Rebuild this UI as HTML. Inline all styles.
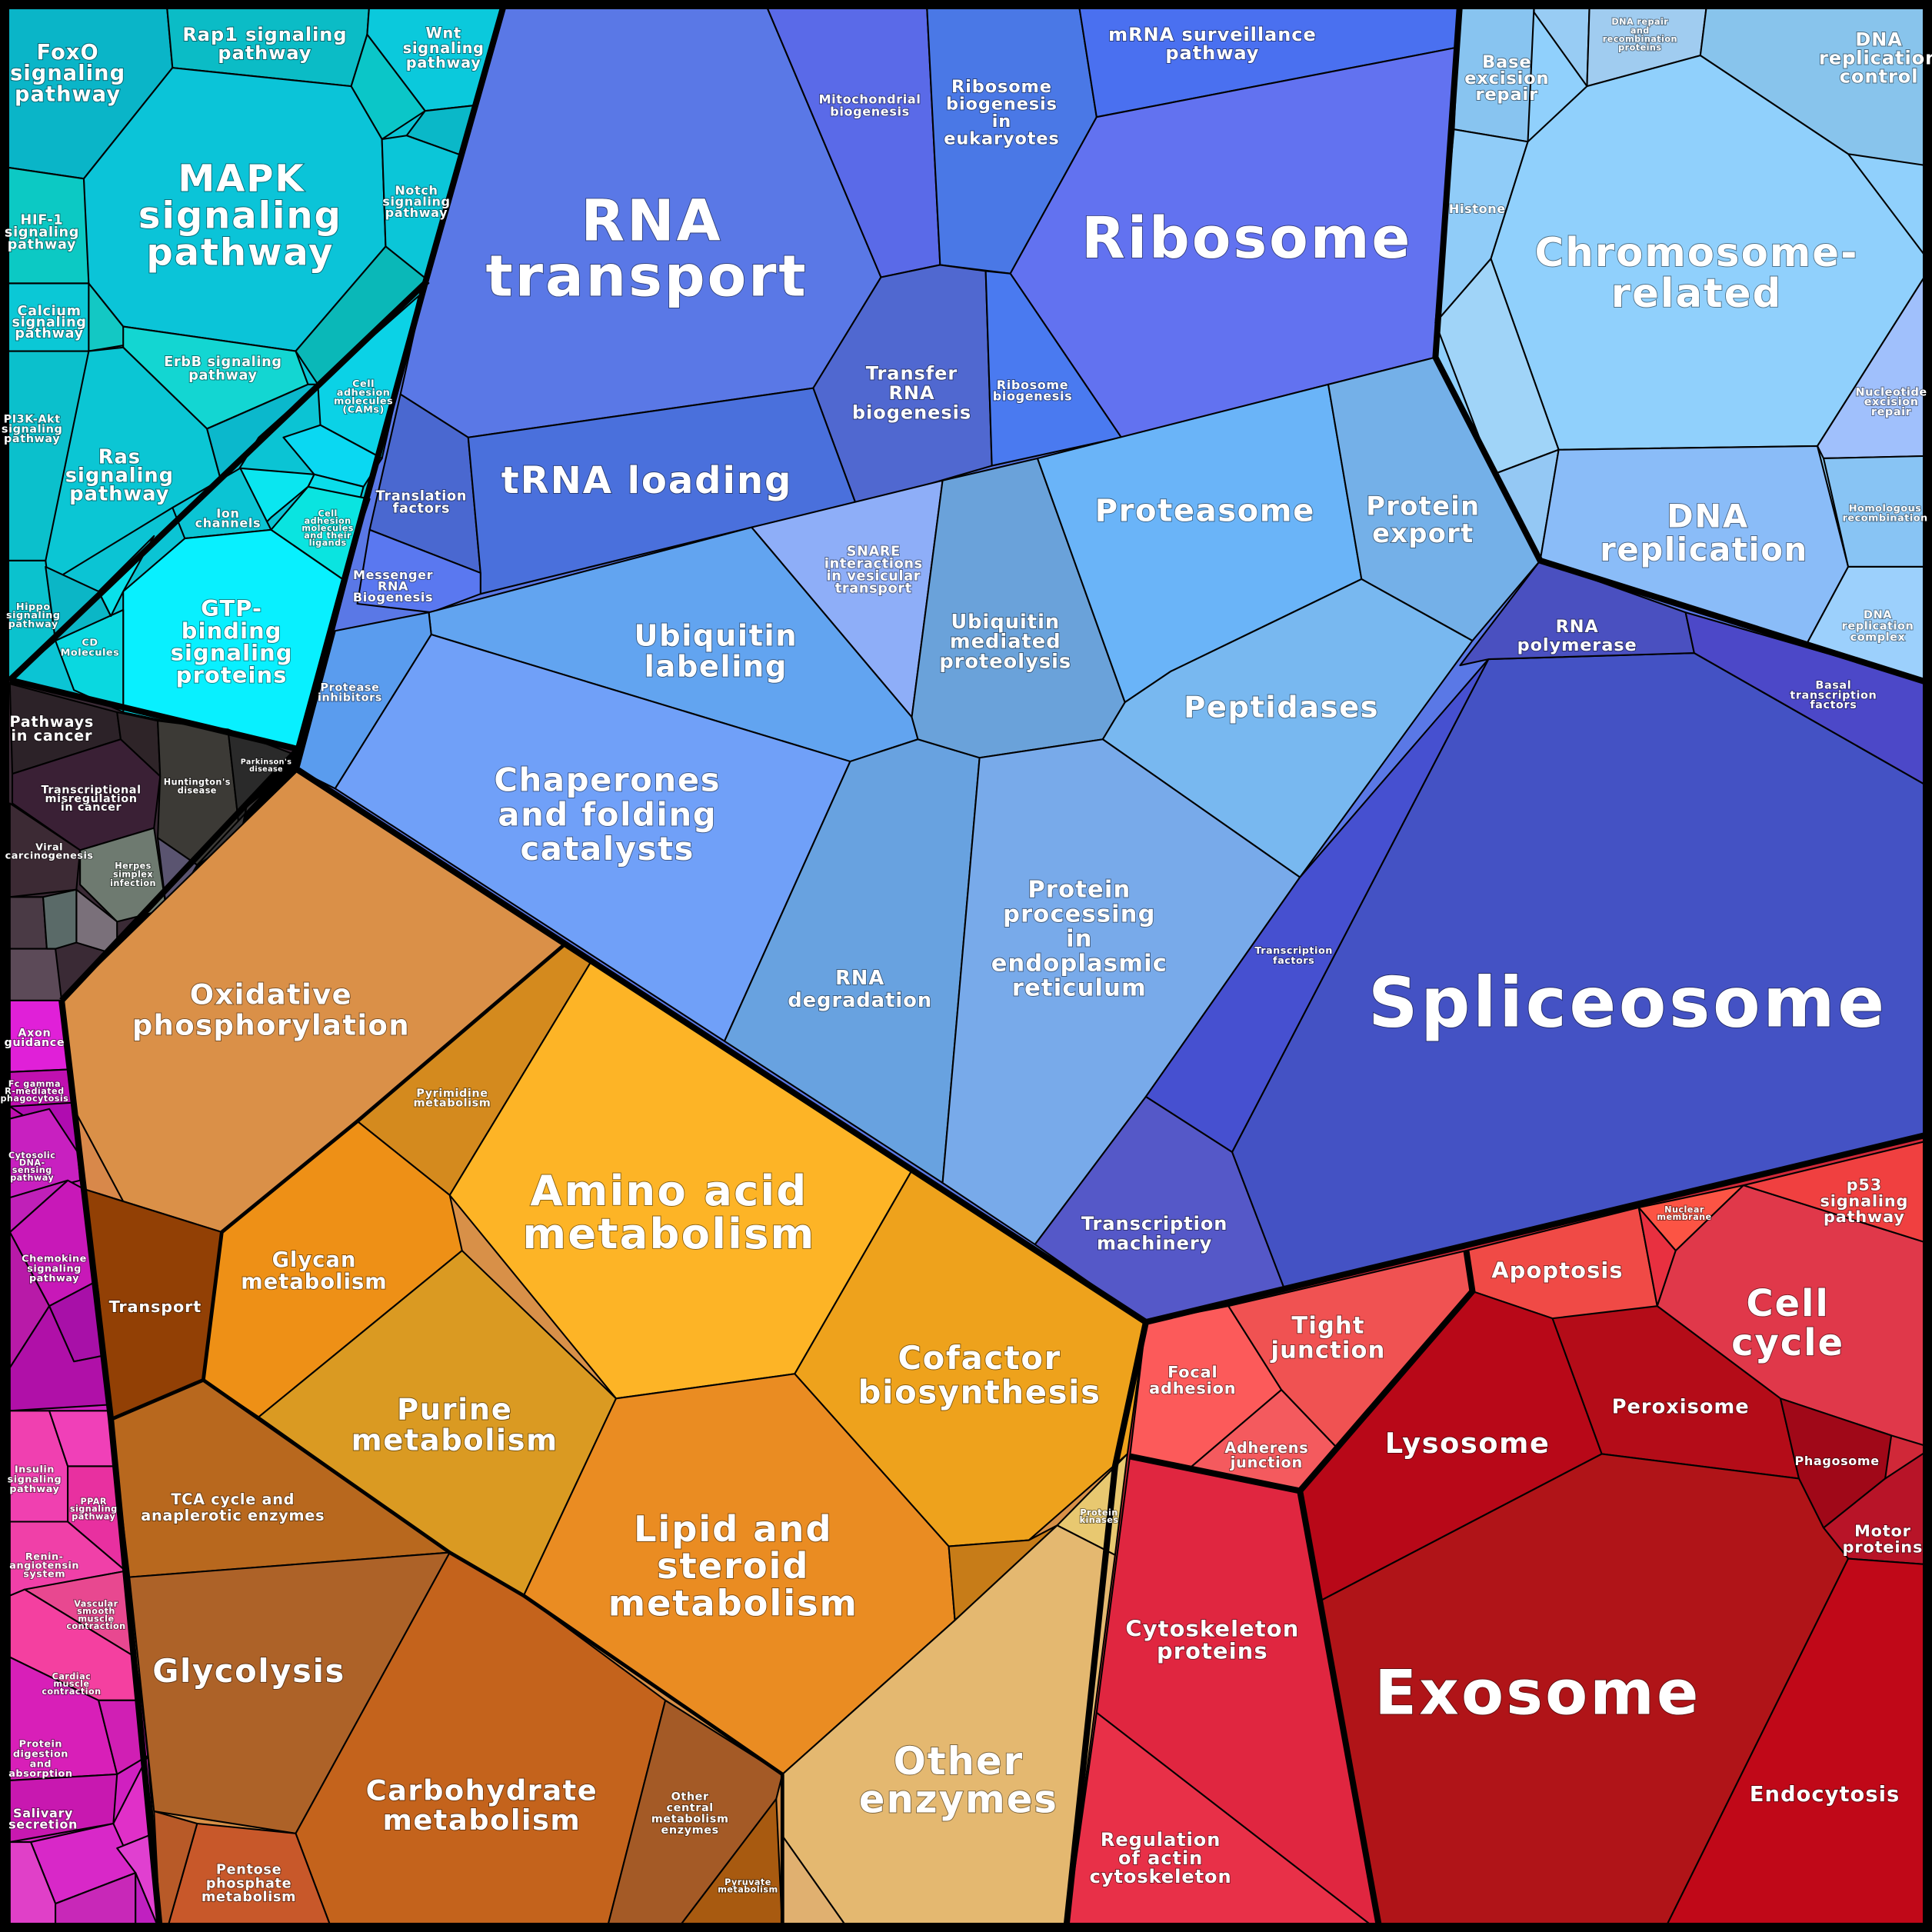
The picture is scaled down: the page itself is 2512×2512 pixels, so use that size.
<!DOCTYPE html>
<html><head><meta charset="utf-8">
<style>
html,body{margin:0;padding:0;background:#000;}
svg{display:block;}
text{font-family:"DejaVu Sans","Liberation Sans",sans-serif;font-weight:bold;fill:#fff;text-anchor:middle;paint-order:stroke;stroke:rgba(0,0,0,0.45);stroke-width:1.2px;letter-spacing:0.04em;}
.c{stroke:#000;stroke-width:1.3;stroke-linejoin:round;}
.g{fill:none;stroke:#000;stroke-width:5;stroke-linejoin:round;}
</style></head><body>
<svg width="2512" height="2512" viewBox="0 0 1568 1568" xmlns="http://www.w3.org/2000/svg">
<rect x="0" y="0" width="1568" height="1568" fill="#000"/>
<polygon fill="#0bc4d4" points="0,0 410,0 345,230 242,608 8,552 0,552"/>
<polygon fill="#3a2a35" points="0,552 8,552 242,608 50,812 0,812"/>
<polygon fill="#d020c0" points="0,812 50,812 68,965 90,1150 130,1568 0,1568"/>
<polygon fill="#d89048" points="242,625 930,1073 905,1190 865,1568 130,1568 90,1150 50,812"/>
<polygon fill="#5a78e6" points="410,0 1185,0 1165,290 1250,455 1568,555 1568,920 930,1073 242,625 345,230"/>
<polygon fill="#90d0fc" points="1185,0 1568,0 1568,555 1250,455 1165,290"/>
<polygon fill="#d02838" points="930,1073 1568,920 1568,1568 865,1568 905,1190"/>

<g class="c">
<polygon fill="#0ab5c8" points="0,0 135,0 140,55 68,145 0,135"/>
<polygon fill="#0bbcc6" points="135,0 300,0 298,28 285,70 140,55"/>
<polygon fill="#0bc9dc" points="300,0 410,0 390,85 345,90 298,28"/>
<polygon fill="#0bc6c8" points="298,28 345,90 310,113 285,70"/>
<polygon fill="#0ab8c8" points="345,90 390,85 380,128 330,110"/>
<polygon fill="#0bc4d8" points="140,55 285,70 310,113 313,200 240,285 100,265 70,230 68,145"/>
<polygon fill="#0bc6d8" points="310,113 330,110 380,128 348,228 313,200"/>
<polygon fill="#0cc9c4" points="0,135 68,145 72,230 0,230"/>
<polygon fill="#0bc8d6" points="0,230 72,230 100,265 72,285 0,285"/>
<polygon fill="#13c8c4" points="72,230 100,265 102,280 72,285"/>
<polygon fill="#0ab8b8" points="240,285 313,200 348,228 258,312"/>
<polygon fill="#13d6d2" points="100,265 240,285 250,312 168,348 100,282"/>
<polygon fill="#0bc6d4" points="0,285 72,285 100,282 168,348 182,400 140,412 45,470 20,455 0,455"/>
<polygon fill="#0bc0cc" points="0,285 72,285 37,455 0,455"/>
<polygon fill="#0bb8cc" points="168,348 250,312 258,312 210,355 182,400"/>
<polygon fill="#0bd2e6" points="258,312 340,240 310,372 260,345"/>
<polygon fill="#0ad8f2" points="230,355 260,345 310,372 295,395 255,385"/>
<polygon fill="#0adcea" points="255,385 295,395 280,450 250,395"/>
<polygon fill="#0ae6f0" points="195,380 255,385 250,395 220,420 210,430"/>
<polygon fill="#0bc4d4" points="140,412 195,380 220,430 150,437"/>
<polygon fill="#0ae4e0" points="220,430 250,395 300,405 278,470"/>
<polygon fill="#08f0ff" points="100,480 150,437 220,430 278,470 242,608 100,578"/>
<polygon fill="#0bc2ce" points="0,455 37,455 45,520 8,552 0,552"/>
<polygon fill="#0bb6c6" points="37,460 80,480 90,500 45,520"/>
<polygon fill="#0ad8e0" points="45,520 100,495 100,578 60,560"/>
<polygon fill="#0ae0ea" points="80,480 125,435 100,480 90,500"/>
</g>
<g class="c">
<polygon fill="#2c2228" points="8,555 95,578 98,600 10,628"/>
<polygon fill="#3a2035" points="10,628 98,600 130,630 125,672 65,690 10,652"/>
<polygon fill="#3c2a34" points="8,652 65,690 62,722 8,728"/>
<polygon fill="#2e2428" points="95,578 128,585 130,630 98,600"/>
<polygon fill="#3c3a36" points="128,585 185,592 195,680 160,702 128,680 130,630"/>
<polygon fill="#2a2a2a" points="185,592 238,612 200,655 195,680"/>
<polygon fill="#3a3838" points="195,680 200,655 218,640 160,702"/>
<polygon fill="#6e7a70" points="65,690 125,672 135,738 95,748 65,718"/>
<polygon fill="#5a5470" points="128,680 160,702 145,728 135,738"/>
<polygon fill="#4a3a45" points="8,728 35,728 38,770 8,770"/>
<polygon fill="#5c4a58" points="8,770 45,770 50,812 8,812"/>
<polygon fill="#7a707a" points="62,722 95,748 95,775 62,765"/>
<polygon fill="#5a6a68" points="35,728 62,722 62,765 45,770 38,770"/>
</g>
<g class="c">
<polygon fill="#e020d8" points="8,812 50,812 55,868 8,870"/>
<polygon fill="#c010b0" points="8,870 55,868 58,895 8,908"/>
<polygon fill="#b00cb0" points="8,898 58,895 63,935"/>
<polygon fill="#c820c0" points="8,908 40,900 63,935 65,958 8,972"/>
<polygon fill="#c818b8" points="8,1000 55,958 68,965 78,1040 40,1060"/>
<polygon fill="#c020b8" points="8,972 55,958 8,1000"/>
<polygon fill="#b81aa8" points="8,1000 40,1060 8,1110"/>
<polygon fill="#a810a8" points="40,1060 78,1040 85,1100 60,1105"/>
<polygon fill="#b010a8" points="8,1110 40,1060 60,1105 85,1100 90,1140 8,1145"/>
<polygon fill="#f040b0" points="8,1145 40,1145 55,1190 55,1235 8,1235"/>
<polygon fill="#f040b8" points="40,1145 90,1145 95,1190 55,1190"/>
<polygon fill="#e830a0" points="55,1190 95,1190 102,1275 55,1235"/>
<polygon fill="#f040a8" points="8,1235 55,1235 102,1275 65,1282 8,1295"/>
<polygon fill="#e84890" points="20,1290 102,1275 110,1345"/>
<polygon fill="#f440a0" points="8,1295 20,1290 110,1345 115,1380 80,1380 8,1345"/>
<polygon fill="#d81fb8" points="8,1345 80,1380 95,1440 8,1445"/>
<polygon fill="#d01fb4" points="80,1380 115,1380 120,1425 95,1440"/>
<polygon fill="#c818b0" points="8,1445 95,1440 92,1480 8,1495"/>
<polygon fill="#e030c8" points="92,1480 120,1425 125,1488 95,1500"/>
<polygon fill="#d828c8" points="25,1495 92,1480 110,1520 45,1545"/>
<polygon fill="#e040d0" points="95,1500 125,1488 130,1568 110,1520"/>
<polygon fill="#e040c8" points="8,1495 25,1495 45,1545 45,1568 8,1568"/>
<polygon fill="#c828b8" points="45,1545 110,1520 110,1568 45,1568"/>
<polygon fill="#c020c0" points="110,1520 130,1568 110,1568"/>
</g>
<g class="c">
<polygon fill="#da9048" points="50,812 242,625 460,765 290,910 180,1000 100,975 68,965 60,900"/>
<polygon fill="#d8884a" points="60,900 100,975 68,965"/>
<polygon fill="#d48a1e" points="460,765 480,780 365,970 290,910"/>
<polygon fill="#fdb426" points="480,780 740,950 645,1115 500,1135 365,970"/>
<polygon fill="#ee9016" points="180,1000 290,910 365,970 375,1015 210,1150 165,1120"/>
<polygon fill="#924005" points="68,965 180,1000 165,1120 90,1152 80,1050"/>
<polygon fill="#da9a22" points="210,1150 375,1015 500,1135 425,1295 365,1260"/>
<polygon fill="#eea21c" points="740,950 930,1073 915,1180 835,1250 770,1255 645,1115"/>
<polygon fill="#ea8c22" points="500,1135 645,1115 770,1255 775,1315 635,1440 425,1295"/>
<polygon fill="#c77c18" points="770,1255 835,1250 858,1238 775,1315"/>
<polygon fill="#b8681e" points="90,1152 165,1120 365,1260 105,1280"/>
<polygon fill="#ad6228" points="105,1280 365,1260 240,1488 125,1470"/>
<polygon fill="#c4631c" points="365,1260 425,1295 540,1380 492,1568 270,1568 240,1488"/>
<polygon fill="#a45a26" points="540,1380 635,1440 630,1460 548,1568 492,1568"/>
<polygon fill="#a85a10" points="630,1460 635,1568 548,1568"/>
<polygon fill="#c8582a" points="160,1480 240,1488 270,1568 135,1568"/>
<polygon fill="#b85a28" points="125,1470 160,1480 135,1568 130,1568"/>
<polygon fill="#e8c870" points="858,1238 915,1180 905,1262"/>
<polygon fill="#e4b870" points="635,1440 775,1315 858,1238 905,1262 865,1568 690,1568 635,1490"/>
<polygon fill="#e0b070" points="635,1490 690,1568 635,1568"/>
</g>
<g class="c">
<polygon fill="#5a78e6" points="410,0 620,0 715,225 660,315 380,355 325,320 345,230"/>
<polygon fill="#5a6ae8" points="620,0 752,0 763,215 715,225"/>
<polygon fill="#4a78e6" points="752,0 875,0 890,95 820,222 763,215"/>
<polygon fill="#4a70f0" points="875,0 1185,0 1185,38 890,95"/>
<polygon fill="#6272f0" points="890,95 1185,38 1165,290 1078,312 910,355 820,222"/>
<polygon fill="#5068d0" points="660,315 715,225 763,215 800,220 805,378 695,410"/>
<polygon fill="#4a7af0" points="800,220 820,222 910,355 805,378"/>
<polygon fill="#4a68d0" points="325,320 380,355 390,465 300,430"/>
<polygon fill="#4a70dc" points="380,355 660,315 695,410 610,428 390,482 390,465"/>
<polygon fill="#5a78f0" points="300,430 390,465 390,482 350,497 290,490"/>
<polygon fill="#8eaef8" points="610,428 765,390 740,582"/>
<polygon fill="#62a4f0" points="348,497 610,428 740,582 745,600 690,618 350,515"/>
<polygon fill="#5a9cee" points="242,625 272,512 348,497 350,515 272,640"/>
<polygon fill="#70a0f8" points="272,640 350,515 690,618 588,845"/>
<polygon fill="#68a2e0" points="588,845 690,618 745,600 795,615 765,960"/>
<polygon fill="#6aa2da" points="740,582 765,390 842,372 913,570 895,600 795,615 745,600"/>
<polygon fill="#6ab4f8" points="842,372 1078,312 1105,470 950,545 913,570"/>
<polygon fill="#74b0e8" points="1078,312 1165,290 1250,455 1195,520 1105,470"/>
<polygon fill="#78b8f0" points="913,570 950,545 1105,470 1195,520 1055,712 895,600"/>
<polygon fill="#78aaea" points="795,615 895,600 1055,712 930,890 840,1010 765,960"/>
<polygon fill="#5558c8" points="840,1010 930,890 1000,935 1042,1045 930,1073"/>
<polygon fill="#4452c4" points="1000,935 1208,535 1375,530 1568,640 1568,920 1042,1045"/>
<polygon fill="#4650d0" points="930,890 1055,712 1208,535 1000,935"/>
<polygon fill="#4a50c0" points="1185,540 1250,455 1368,497 1375,530 1208,535"/>
<polygon fill="#4c48c8" points="1368,497 1568,555 1568,640 1375,530"/>
</g>
<g class="c">
<polygon fill="#88c4f0" points="1185,0 1245,5 1240,115 1180,105"/>
<polygon fill="#98ccf4" points="1245,5 1290,5 1288,70 1245,10"/>
<polygon fill="#a0ccf0" points="1290,5 1385,5 1380,45 1288,70"/>
<polygon fill="#88c4ec" points="1385,5 1568,0 1568,135 1500,125 1380,45"/>
<polygon fill="#90ccf8" points="1180,105 1240,115 1210,210 1165,262"/>
<polygon fill="#90d0fc" points="1240,115 1288,70 1380,45 1500,125 1568,215 1475,362 1265,365 1210,210"/>
<polygon fill="#a0d4f8" points="1165,262 1210,210 1265,365 1212,385"/>
<polygon fill="#94c8f4" points="1212,385 1265,365 1250,455"/>
<polygon fill="#a0c0fc" points="1568,215 1568,370 1480,372 1475,362"/>
<polygon fill="#8abcf8" points="1265,365 1475,362 1500,460 1465,525 1250,455"/>
<polygon fill="#88c4f4" points="1480,372 1568,370 1568,460 1500,460"/>
<polygon fill="#9cd0fc" points="1500,460 1568,460 1568,555 1465,525"/>
</g>
<g class="c">
<polygon fill="#fc5a5a" points="930,1073 997,1060 1040,1128 965,1192 917,1182"/>
<polygon fill="#f05252" points="997,1060 1190,1015 1195,1048 1085,1175 1040,1128"/>
<polygon fill="#f45a5e" points="965,1192 1040,1128 1085,1175 1055,1210"/>
<polygon fill="#f04a46" points="1190,1015 1330,980 1345,1060 1323,1090 1260,1070 1195,1048"/>
<polygon fill="#fc5444" points="1330,980 1415,962 1360,1015"/>
<polygon fill="#e83040" points="1330,980 1360,1015 1345,1060"/>
<polygon fill="#e0384a" points="1345,1060 1360,1015 1415,962 1568,1010 1568,1175 1535,1165 1445,1135"/>
<polygon fill="#f04040" points="1415,962 1568,925 1568,1010"/>
<polygon fill="#b80818" points="1195,1048 1260,1070 1300,1180 1070,1300 1055,1210"/>
<polygon fill="#b40c18" points="1260,1070 1345,1060 1445,1135 1460,1200 1300,1180"/>
<polygon fill="#a00818" points="1445,1135 1535,1165 1530,1200 1480,1240 1460,1200"/>
<polygon fill="#b81428" points="1480,1240 1530,1200 1568,1175 1568,1270 1500,1265"/>
<polygon fill="#b01418" points="1055,1210 1070,1300 1300,1180 1460,1200 1480,1240 1500,1265 1350,1568 1120,1568"/>
<polygon fill="#c00818" points="1500,1265 1568,1270 1568,1568 1350,1568"/>
<polygon fill="#e02640" points="917,1182 965,1192 1055,1210 1120,1568 890,1390"/>
<polygon fill="#e83048" points="890,1390 1120,1568 865,1568"/>
</g>

<polyline class="g" points="410,0 345,230 242,608 8,552"/>
<polyline class="g" points="347,228 8,552"/>
<polyline class="g" points="242,608 50,812"/>
<polyline class="g" points="242,625 930,1073 905,1190 865,1568"/>
<polyline class="g" points="50,812 68,965 90,1152 130,1568"/>
<polyline class="g" points="1185,0 1165,290 1250,455 1568,555"/>
<polyline class="g" points="930,1073 1568,920"/>
<polyline class="g" points="917,1182 1055,1210 1195,1048 1190,1015"/>
<polyline class="g" points="1055,1210 1120,1568"/>
<polyline class="g" points="180,1000 290,910 460,765" style="stroke-width:3"/>
<polyline class="g" points="90,1152 165,1120 365,1260 425,1295 635,1440 635,1568" style="stroke-width:3"/>
<polyline class="g" points="165,1120 180,1000" style="stroke-width:3"/>
<rect x="3.5" y="3.5" width="1561" height="1561" fill="none" stroke="#000" stroke-width="8"/>

<g>
<text font-size="17" x="55" y="48">FoxO<tspan x="55" dy="17">signaling</tspan><tspan x="55" dy="17">pathway</tspan></text>
<text font-size="15" x="215" y="33">Rap1 signaling<tspan x="215" dy="15">pathway</tspan></text>
<text font-size="12" x="360" y="31">Wnt<tspan x="360" dy="12">signaling</tspan><tspan x="360" dy="12">pathway</tspan></text>
<text font-size="30" x="196" y="155">MAPK<tspan x="195" dy="30">signaling</tspan><tspan x="195" dy="30">pathway</tspan></text>
<text font-size="10" x="338" y="158">Notch<tspan x="338" dy="9">signaling</tspan><tspan x="338" dy="9">pathway</tspan></text>
<text font-size="11" x="34" y="182">HIF-1<tspan x="34" dy="10">signaling</tspan><tspan x="34" dy="10">pathway</tspan></text>
<text font-size="11" x="40" y="256">Calcium<tspan x="40" dy="9">signaling</tspan><tspan x="40" dy="9">pathway</tspan></text>
<text font-size="11" x="181" y="297">ErbB signaling<tspan x="181" dy="11">pathway</tspan></text>
<text font-size="9" x="26" y="343">PI3K-Akt<tspan x="26" dy="8">signaling</tspan><tspan x="26" dy="8">pathway</tspan></text>
<text font-size="16" x="97" y="376">Ras<tspan x="97" dy="15">signaling</tspan><tspan x="97" dy="15">pathway</tspan></text>
<text font-size="8" x="295" y="314">Cell<tspan x="295" dy="7">adhesion</tspan><tspan x="295" dy="7">molecules</tspan><tspan x="295" dy="7">(CAMs)</tspan></text>
<text font-size="10" x="185" y="420">Ion<tspan x="185" dy="8">channels</tspan></text>
<text font-size="7" x="266" y="419">Cell<tspan x="266" dy="6">adhesion</tspan><tspan x="266" dy="6">molecules</tspan><tspan x="266" dy="6">and their</tspan><tspan x="266" dy="6">ligands</tspan></text>
<text font-size="18" x="188" y="500">GTP-<tspan x="188" dy="18">binding</tspan><tspan x="188" dy="18">signaling</tspan><tspan x="188" dy="18">proteins</tspan></text>
<text font-size="8" x="27" y="495">Hippo<tspan x="27" dy="7">signaling</tspan><tspan x="27" dy="7">pathway</tspan></text>
<text font-size="8" x="73" y="524">CD<tspan x="73" dy="8">Molecules</tspan></text>
<text font-size="12" x="42" y="590">Pathways<tspan x="42" dy="11">in cancer</tspan></text>
<text font-size="9" x="74" y="644">Transcriptional<tspan x="74" dy="7">misregulation</tspan><tspan x="74" dy="7">in cancer</tspan></text>
<text font-size="8" x="40" y="690">Viral<tspan x="40" dy="7">carcinogenesis</tspan></text>
<text font-size="7" x="160" y="637">Huntington's<tspan x="160" dy="7">disease</tspan></text>
<text font-size="6" x="216" y="620">Parkinson's<tspan x="216" dy="6">disease</tspan></text>
<text font-size="7" x="108" y="705">Herpes<tspan x="108" dy="7">simplex</tspan><tspan x="108" dy="7">infection</tspan></text>
<text font-size="9" x="28" y="841">Axon<tspan x="28" dy="8">guidance</tspan></text>
<text font-size="7" x="28" y="882">Fc gamma<tspan x="28" dy="6">R-mediated</tspan><tspan x="28" dy="6">phagocytosis</tspan></text>
<text font-size="7" x="26" y="940">Cytosolic<tspan x="26" dy="6">DNA-</tspan><tspan x="26" dy="6">sensing</tspan><tspan x="26" dy="6">pathway</tspan></text>
<text font-size="8" x="44" y="1024">Chemokine<tspan x="44" dy="8">signaling</tspan><tspan x="44" dy="8">pathway</tspan></text>
<text font-size="8" x="28" y="1195">Insulin<tspan x="28" dy="8">signaling</tspan><tspan x="28" dy="8">pathway</tspan></text>
<text font-size="7" x="76" y="1221">PPAR<tspan x="76" dy="6">signaling</tspan><tspan x="76" dy="6">pathway</tspan></text>
<text font-size="8" x="36" y="1266">Renin-<tspan x="36" dy="7">angiotensin</tspan><tspan x="36" dy="7">system</tspan></text>
<text font-size="7" x="78" y="1304">Vascular<tspan x="78" dy="6">smooth</tspan><tspan x="78" dy="6">muscle</tspan><tspan x="78" dy="6">contraction</tspan></text>
<text font-size="7" x="58" y="1363">Cardiac<tspan x="58" dy="6">muscle</tspan><tspan x="58" dy="6">contraction</tspan></text>
<text font-size="8" x="33" y="1418">Protein<tspan x="33" dy="8">digestion</tspan><tspan x="33" dy="8">and</tspan><tspan x="33" dy="8">absorption</tspan></text>
<text font-size="10" x="35" y="1475">Salivary<tspan x="35" dy="9">secretion</tspan></text>
<text font-size="23" x="220" y="815">Oxidative<tspan x="220" dy="25">phosphorylation</tspan></text>
<text font-size="9" x="367" y="890">Pyrimidine<tspan x="367" dy="8">metabolism</tspan></text>
<text font-size="34" x="543" y="978">Amino acid<tspan x="543" dy="35">metabolism</tspan></text>
<text font-size="17" x="255" y="1028">Glycan<tspan x="255" dy="18">metabolism</tspan></text>
<text font-size="13" x="126" y="1065">Transport</text>
<text font-size="24" x="369" y="1152">Purine<tspan x="369" dy="25">metabolism</tspan></text>
<text font-size="26" x="795" y="1111">Cofactor<tspan x="795" dy="28">biosynthesis</tspan></text>
<text font-size="29" x="595" y="1251">Lipid and<tspan x="595" dy="30">steroid</tspan><tspan x="595" dy="30">metabolism</tspan></text>
<text font-size="12" x="189" y="1221">TCA cycle and<tspan x="189" dy="13">anaplerotic enzymes</tspan></text>
<text font-size="26" x="202" y="1365">Glycolysis</text>
<text font-size="23" x="391" y="1461">Carbohydrate<tspan x="391" dy="24">metabolism</tspan></text>
<text font-size="9" x="560" y="1461">Other<tspan x="560" dy="9">central</tspan><tspan x="560" dy="9">metabolism</tspan><tspan x="560" dy="9">enzymes</tspan></text>
<text font-size="11" x="202" y="1521">Pentose<tspan x="202" dy="11">phosphate</tspan><tspan x="202" dy="11">metabolism</tspan></text>
<text font-size="7" x="607" y="1530">Pyruvate<tspan x="607" dy="6">metabolism</tspan></text>
<text font-size="31" x="778" y="1440">Other<tspan x="778" dy="31">enzymes</tspan></text>
<text font-size="7" x="892" y="1230">Protein<tspan x="892" dy="6">kinases</tspan></text>
<text font-size="46" x="529" y="195">RNA<tspan x="525" dy="45">transport</tspan></text>
<text font-size="30" x="525" y="400">tRNA loading</text>
<text font-size="10" x="706" y="84">Mitochondrial<tspan x="706" dy="10">biogenesis</tspan></text>
<text font-size="14" x="813" y="75">Ribosome<tspan x="813" dy="14">biogenesis</tspan><tspan x="813" dy="14">in</tspan><tspan x="813" dy="14">eukaryotes</tspan></text>
<text font-size="15" x="984" y="33">mRNA surveillance<tspan x="984" dy="15">pathway</tspan></text>
<text font-size="46" x="1012" y="209">Ribosome</text>
<text font-size="15" x="740" y="308">Transfer<tspan x="740" dy="16">RNA</tspan><tspan x="740" dy="16">biogenesis</tspan></text>
<text font-size="10" x="838" y="316">Ribosome<tspan x="838" dy="9">biogenesis</tspan></text>
<text font-size="11" x="342" y="406">Translation<tspan x="342" dy="10">factors</tspan></text>
<text font-size="10" x="319" y="470">Messenger<tspan x="319" dy="9">RNA</tspan><tspan x="319" dy="9">Biogenesis</tspan></text>
<text font-size="11" x="709" y="451">SNARE<tspan x="709" dy="10">interactions</tspan><tspan x="709" dy="10">in vesicular</tspan><tspan x="709" dy="10">transport</tspan></text>
<text font-size="24" x="581" y="524">Ubiquitin<tspan x="581" dy="25">labeling</tspan></text>
<text font-size="9" x="284" y="561">Protease<tspan x="284" dy="8">inhibitors</tspan></text>
<text font-size="26" x="493" y="642">Chaperones<tspan x="493" dy="28">and folding</tspan><tspan x="493" dy="28">catalysts</tspan></text>
<text font-size="16" x="698" y="799">RNA<tspan x="698" dy="18">degradation</tspan></text>
<text font-size="16" x="816" y="510">Ubiquitin<tspan x="816" dy="16">mediated</tspan><tspan x="816" dy="16">proteolysis</tspan></text>
<text font-size="25" x="978" y="423">Proteasome</text>
<text font-size="21" x="1155" y="418">Protein<tspan x="1155" dy="22">export</tspan></text>
<text font-size="24" x="1040" y="582">Peptidases</text>
<text font-size="19" x="876" y="728">Protein<tspan x="876" dy="20">processing</tspan><tspan x="876" dy="20">in</tspan><tspan x="876" dy="20">endoplasmic</tspan><tspan x="876" dy="20">reticulum</tspan></text>
<text font-size="8" x="1050" y="774">Transcription<tspan x="1050" dy="8">factors</tspan></text>
<text font-size="15" x="937" y="998">Transcription<tspan x="937" dy="16">machinery</tspan></text>
<text font-size="56" x="1321" y="833">Spliceosome</text>
<text font-size="14" x="1280" y="513">RNA<tspan x="1280" dy="15">polymerase</tspan></text>
<text font-size="9" x="1488" y="559">Basal<tspan x="1488" dy="8">transcription</tspan><tspan x="1488" dy="8">factors</tspan></text>
<text font-size="14" x="1223" y="55">Base<tspan x="1223" dy="13">excision</tspan><tspan x="1223" dy="13">repair</tspan></text>
<text font-size="15" x="1525" y="37">DNA<tspan x="1525" dy="15">replication</tspan><tspan x="1525" dy="15">control</tspan></text>
<text font-size="7" x="1331" y="20">DNA repair<tspan x="1331" dy="7">and</tspan><tspan x="1331" dy="7">recombination</tspan><tspan x="1331" dy="7">proteins</tspan></text>
<text font-size="10" x="1199" y="173">Histone</text>
<text font-size="32" x="1377" y="216">Chromosome-<tspan x="1377" dy="33">related</tspan></text>
<text font-size="9" x="1535" y="321">Nucleotide<tspan x="1535" dy="8">excision</tspan><tspan x="1535" dy="8">repair</tspan></text>
<text font-size="26" x="1386" y="428">DNA<tspan x="1383" dy="27">replication</tspan></text>
<text font-size="8" x="1530" y="415">Homologous<tspan x="1530" dy="8">recombination</tspan></text>
<text font-size="9" x="1524" y="502">DNA<tspan x="1524" dy="9">replication</tspan><tspan x="1524" dy="9">complex</tspan></text>
<text font-size="13" x="968" y="1118">Focal<tspan x="968" dy="13">adhesion</tspan></text>
<text font-size="19" x="1078" y="1082">Tight<tspan x="1078" dy="20">junction</tspan></text>
<text font-size="12" x="1028" y="1179">Adherens<tspan x="1028" dy="12">junction</tspan></text>
<text font-size="18" x="1264" y="1037">Apoptosis</text>
<text font-size="30" x="1451" y="1068">Cell<tspan x="1451" dy="32">cycle</tspan></text>
<text font-size="13" x="1513" y="966">p53<tspan x="1513" dy="13">signaling</tspan><tspan x="1513" dy="13">pathway</tspan></text>
<text font-size="7" x="1367" y="984">Nuclear<tspan x="1367" dy="6">membrane</tspan></text>
<text font-size="23" x="1191" y="1179">Lysosome</text>
<text font-size="16" x="1364" y="1147">Peroxisome</text>
<text font-size="10" x="1491" y="1189">Phagosome</text>
<text font-size="13" x="1528" y="1247">Motor<tspan x="1528" dy="13">proteins</tspan></text>
<text font-size="50" x="1248" y="1391">Exosome</text>
<text font-size="17" x="1481" y="1462">Endocytosis</text>
<text font-size="18" x="984" y="1328">Cytoskeleton<tspan x="984" dy="18">proteins</tspan></text>
<text font-size="15" x="942" y="1498">Regulation<tspan x="942" dy="15">of actin</tspan><tspan x="942" dy="15">cytoskeleton</tspan></text>
</g>
</svg>
</body></html>
